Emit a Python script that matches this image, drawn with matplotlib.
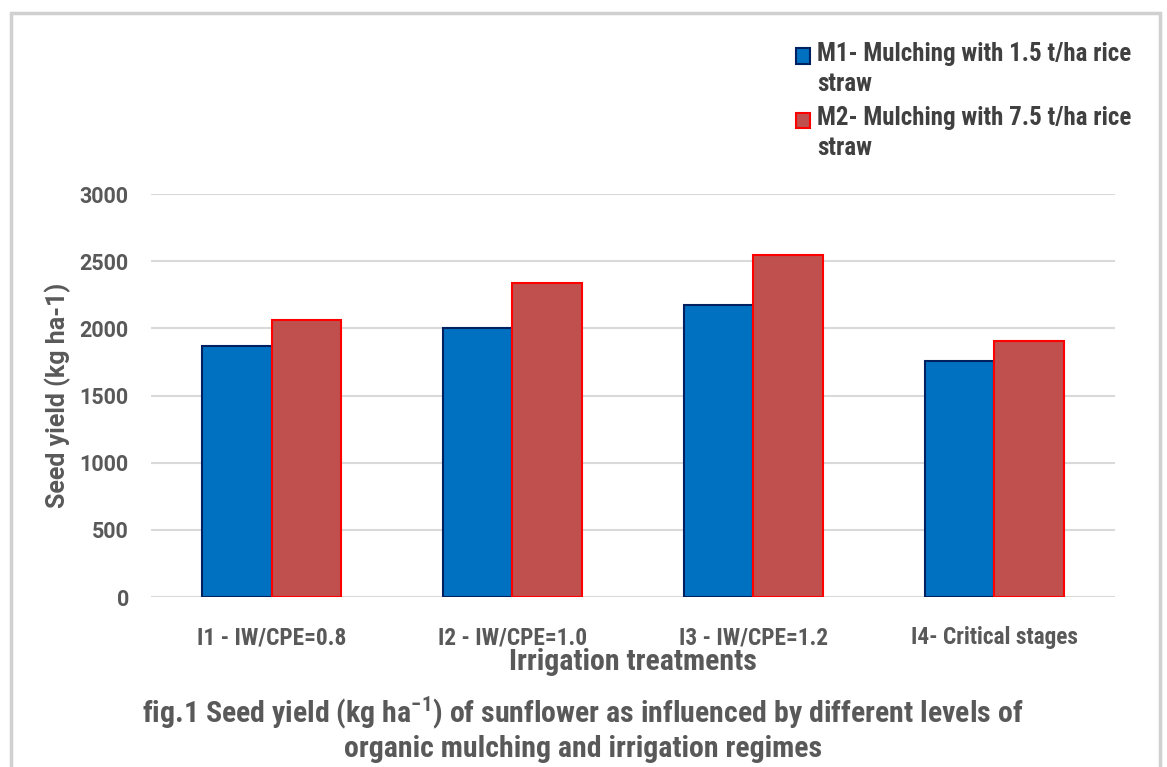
import matplotlib.pyplot as plt
import numpy as np
from matplotlib.patches import Rectangle

# donnees
traitements = ["I1 - IW/CPE=0.8", "I2 - IW/CPE=1.0", "I3 - IW/CPE=1.2", "I4- Critical stages"]
m1 = [1870, 2000, 2175, 1760]
m2 = [2065, 2340, 2545, 1905]
noms = ["M1- Mulching with 1.5 t/ha rice\nstraw", "M2- Mulching with 7.5 t/ha rice\nstraw"]

narrow = ["Roboto Condensed", "Liberation Sans Narrow", "Roboto", "DejaVu Sans"]
gris = "#595959"

fig = plt.figure(figsize=(11.67, 7.67), dpi=100)
# cadre gris clair du graphique
fig.patches.append(Rectangle((0.009, -0.01), 0.985, 0.993, transform=fig.transFigure,
                             fill=False, edgecolor="#d0d0d0", linewidth=2.5))

ax = fig.add_axes([0.1294, 0.2216, 0.8260, 0.5254])
x = np.arange(len(traitements))
w = 0.287
ax.bar(x - w / 2, m1, w, color="#0070C0", edgecolor="#002060", linewidth=1.5, label=noms[0], zorder=3)
ax.bar(x + w / 2, m2, w, color="#C0504D", edgecolor="#FF0000", linewidth=1.5, label=noms[1], zorder=3)

ax.set_xlim(-0.5, 3.5)
ax.set_ylim(0, 3000)
ax.set_yticks(range(0, 3001, 500))
ax.grid(axis="y", color="#d9d9d9", linewidth=1.5, zorder=0)
for s in ax.spines.values():
    s.set_visible(False)
ax.tick_params(length=0)
ax.set_xticks(x)
ax.set_xticklabels(traitements, family=narrow, fontweight="bold", fontsize=16.8, color=gris)
for t in ax.get_yticklabels():
    t.set_family("Roboto")
    t.set_fontweight("bold")
    t.set_fontsize(15.5)
    t.set_color(gris)
ax.tick_params(axis="y", pad=16)
ax.tick_params(axis="x", pad=21)

ax.set_ylabel("Seed yield (kg ha-1)", family="Roboto", fontweight="bold", fontsize=18,
              color=gris, labelpad=6)
ax.set_xlabel("Irrigation treatments", family=narrow, fontweight="bold", fontsize=21.5,
              color=gris, labelpad=-1)

leg = fig.legend(loc="upper left", bbox_to_anchor=(796 / 1167, 1 - 42 / 767),
                 frameon=False, handlelength=0.55, handleheight=0.6, handletextpad=0.3,
                 labelspacing=0.42, borderpad=0, borderaxespad=0,
                 prop={"family": narrow, "weight": "bold", "size": 18})
for t in leg.get_texts():
    t.set_color("#404040")
    t.set_linespacing(1.3)
# carre de legende aligne sur la premiere ligne
for p in leg.get_patches():
    p.set_y(p.get_y() + 9.5)

fig.text(0.499, 0.057, "fig.1 Seed yield (kg ha$^{\\mathregular{-1}}$) of sunflower as influenced by different levels of",
         ha="center", family=narrow, fontweight="bold", fontsize=21.5, color=gris)
fig.text(0.5, 0.013, "organic mulching and irrigation regimes",
         ha="center", family=narrow, fontweight="bold", fontsize=21.5, color=gris)

fig.savefig("out.png", dpi=100)
